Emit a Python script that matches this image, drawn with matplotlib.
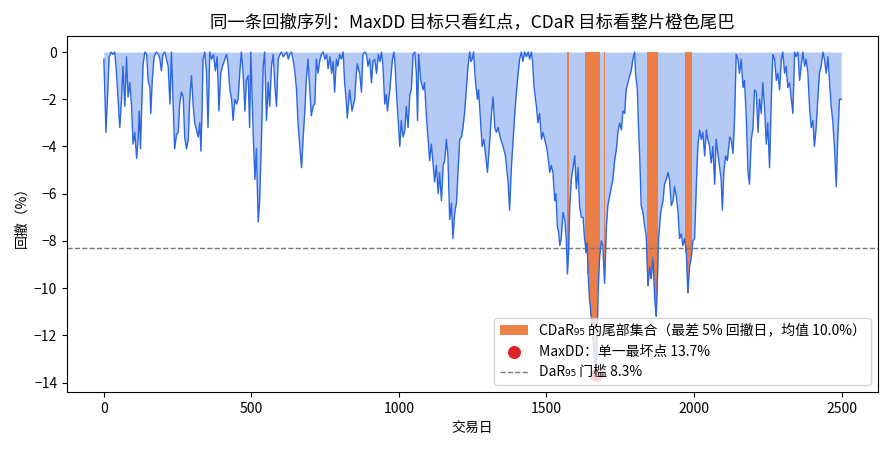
import matplotlib
matplotlib.use("Agg")
import matplotlib.pyplot as plt
import numpy as np

plt.rcParams['font.family'] = ['Noto Sans CJK SC', 'DejaVu Sans']

# 交易日 与 回撤(%)
days = np.array([
    0, 3, 7, 12, 18, 25, 30, 37, 43, 54, 60, 65, 71, 77, 82, 88, 94, 99, 105, 111,
    116, 120, 124, 129, 133, 139, 145, 150, 156, 159, 164, 170, 178, 185, 190, 195, 200, 207, 212, 218,
    224, 229, 235, 240, 246, 252, 257, 263, 269, 274, 280, 286, 291, 297, 303, 308, 314, 320, 325, 329,
    333, 336, 342, 348, 353, 359, 365, 372, 378, 384, 390, 396, 402, 410, 416, 421, 427, 433, 438, 444,
    450, 455, 461, 466, 472, 478, 483, 489, 494, 498, 506, 512, 517, 523, 528, 534, 540, 545, 551, 557,
    562, 568, 574, 579, 585, 591, 597, 602, 608, 614, 620, 625, 630, 636, 641, 647, 653, 658, 664, 670,
    675, 681, 686, 692, 698, 703, 709, 715, 720, 726, 731, 737, 743, 749, 755, 760, 766, 772, 777, 782,
    788, 793, 799, 805, 811, 816, 821, 825, 833, 841, 850, 855, 859, 867, 873, 878, 884, 890, 895, 901,
    907, 912, 918, 924, 930, 936, 941, 946, 952, 957, 961, 969, 974, 978, 983, 987, 991, 997, 1003, 1008,
    1014, 1020, 1025, 1031, 1037, 1042, 1048, 1054, 1059, 1063, 1067, 1074, 1082, 1087, 1093, 1099, 1104, 1110, 1116, 1121,
    1127, 1133, 1138, 1144, 1150, 1155, 1161, 1166, 1172, 1178, 1183, 1189, 1195, 1200, 1206, 1212, 1217, 1223, 1229, 1234,
    1240, 1244, 1248, 1253, 1259, 1266, 1270, 1277, 1282, 1288, 1293, 1300, 1308, 1313, 1319, 1325, 1330, 1336, 1345, 1353,
    1361, 1370, 1375, 1381, 1387, 1392, 1398, 1404, 1409, 1415, 1420, 1426, 1432, 1438, 1443, 1449, 1453, 1458, 1466, 1471,
    1477, 1483, 1488, 1494, 1500, 1505, 1511, 1516, 1522, 1528, 1532, 1537, 1541, 1545, 1550, 1556, 1562, 1567, 1571, 1575,
    1579, 1584, 1590, 1596, 1601, 1607, 1612, 1618, 1624, 1629, 1635, 1638, 1641, 1646, 1652, 1658, 1663, 1669, 1675, 1680,
    1686, 1691, 1697, 1703, 1708, 1714, 1720, 1725, 1731, 1737, 1742, 1748, 1754, 1759, 1765, 1770, 1776, 1782, 1787, 1793,
    1799, 1802, 1808, 1812, 1816, 1821, 1827, 1833, 1838, 1844, 1850, 1855, 1861, 1867, 1872, 1875, 1880, 1887, 1895, 1900,
    1906, 1912, 1917, 1923, 1929, 1934, 1940, 1946, 1951, 1957, 1962, 1968, 1974, 1979, 1985, 1991, 1996, 2002, 2008, 2013,
    2019, 2025, 2030, 2036, 2042, 2047, 2053, 2058, 2064, 2070, 2075, 2081, 2087, 2092, 2096, 2101, 2107, 2113, 2121, 2126,
    2132, 2137, 2143, 2149, 2154, 2160, 2166, 2171, 2177, 2183, 2188, 2194, 2200, 2205, 2211, 2217, 2222, 2228, 2233, 2239,
    2245, 2250, 2256, 2262, 2267, 2273, 2279, 2284, 2290, 2296, 2301, 2307, 2312, 2318, 2324, 2329, 2335, 2341, 2346, 2352,
    2358, 2363, 2369, 2375, 2380, 2386, 2391, 2397, 2403, 2408, 2414, 2420, 2425, 2431, 2437, 2442, 2448, 2454, 2459, 2465,
    2470, 2476, 2482, 2487, 2493, 2499])

drawdown = np.array([
    -0.3, -1.5, -3.4, -2.0, -0.2, 0.0, -0.1, 0.0, -0.9, -3.2, -2.0, -0.6, -2.3, -0.2, -1.9, -1.3, -2.3, -3.9, -3.4, -4.5,
    -3.7, -2.5, -4.1, -2.0, -0.5, 0.0, -0.1, -1.2, -1.5, -2.6, -1.2, -0.2, 0.0, -0.1, -0.3, -0.8, -0.1, 0.0, -0.3, -0.6,
    -2.2, 0.0, -2.3, -4.1, -3.5, -3.4, -2.2, -1.7, -1.9, -3.6, -4.1, -3.7, -2.0, -1.0, -2.3, -3.0, -3.3, -3.6, -3.0, -4.2,
    -2.3, -0.3, 0.0, -0.9, -3.2, 0.0, -0.3, -0.1, -0.8, -0.2, -2.5, -0.9, -0.6, -0.3, -0.1, -0.5, -1.6, -2.0, -2.9, -2.0,
    -2.2, -2.0, -0.8, 0.0, -0.9, -2.5, -1.2, -1.0, -3.2, 0.0, -3.4, -5.4, -4.1, -7.2, -6.3, -3.7, -0.6, 0.0, -2.9, -1.3,
    -2.3, -0.6, -0.1, -1.3, -2.3, -0.3, -0.1, 0.0, -0.2, -0.1, 0.0, -0.3, -0.1, 0.0, -0.3, -0.8, -1.6, -3.0, -4.0, -4.9,
    -3.7, -2.5, -1.2, -0.3, -1.6, -2.7, -2.3, -2.2, -0.3, -0.9, -0.4, -0.1, 0.0, -0.3, -0.1, -0.7, -0.2, -0.9, -0.4, -1.7,
    -0.3, -0.6, -0.1, -0.3, 0.0, -1.3, -2.0, -2.8, -1.6, -2.5, -2.0, -1.0, -0.5, -0.9, -1.7, -0.1, 0.0, -0.1, -0.6, -0.3,
    -1.3, -0.4, -0.3, -0.9, -0.1, -0.4, 0.0, -0.6, -2.2, -1.8, -2.5, -1.6, -0.9, -0.3, 0.0, -0.5, -1.6, -2.8, -4.0, -2.9,
    -3.6, -3.3, -2.3, -3.2, -1.8, -1.6, -0.1, 0.0, -0.9, -2.9, -0.1, -1.2, -1.6, -1.3, -2.7, -3.7, -4.6, -3.9, -4.8, -5.5,
    -4.8, -6.0, -5.1, -6.3, -4.8, -4.6, -3.7, -4.4, -7.1, -6.4, -7.9, -6.8, -6.4, -5.1, -3.7, -3.6, -3.2, -2.5, -1.5, -0.6,
    0.0, -0.4, -0.3, 0.0, -1.2, -2.0, -1.6, -3.0, -4.0, -3.7, -4.3, -5.1, -3.7, -2.7, -1.9, -3.2, -3.4, -3.2, -3.7, -4.0,
    -4.4, -5.5, -6.7, -4.9, -3.7, -2.7, -1.7, -0.9, -0.3, 0.0, -0.4, 0.0, -0.2, 0.0, -0.3, 0.0, -0.4, -1.5, -2.3, -3.0,
    -2.6, -3.7, -3.4, -3.7, -4.0, -4.4, -5.1, -4.8, -5.1, -6.3, -6.0, -7.4, -7.6, -8.2, -7.9, -6.8, -7.1, -7.9, -9.4, -8.5,
    -6.5, -5.4, -4.9, -4.4, -5.8, -4.9, -6.5, -7.0, -7.0, -7.9, -8.5, -8.1, -9.4, -10.5, -11.2, -12.2, -12.9, -13.7, -10.2, -8.7,
    -8.0, -8.2, -9.8, -7.4, -6.5, -6.1, -5.7, -5.4, -4.6, -4.1, -3.4, -3.0, -3.3, -2.5, -2.6, -1.6, -1.3, -1.0, -0.8, -0.3,
    0.0, -0.9, -1.6, -3.2, -4.4, -6.5, -6.8, -7.4, -7.8, -9.9, -9.1, -9.6, -8.7, -10.5, -11.2, -10.1, -7.9, -6.8, -6.3, -5.6,
    -5.4, -5.1, -5.4, -6.5, -6.3, -5.7, -6.1, -6.8, -7.9, -7.7, -8.2, -7.9, -8.5, -10.2, -9.1, -8.7, -8.0, -7.9, -5.6, -4.0,
    -3.3, -3.7, -3.4, -4.4, -3.3, -3.7, -4.0, -4.7, -4.0, -5.6, -3.7, -4.3, -4.9, -5.4, -6.7, -5.1, -4.4, -4.6, -3.6, -3.7,
    -4.3, -3.0, -0.1, -0.3, -0.9, -0.3, -1.5, -1.2, -2.7, -5.1, -5.6, -3.7, -3.2, -1.6, -1.7, -3.4, -2.0, -2.6, -1.3, -2.3,
    -3.9, -3.0, -4.9, -2.0, -0.1, -0.3, -1.2, -0.9, -1.6, -0.3, 0.0, -0.9, -0.6, -1.5, -1.3, -1.9, -2.6, 0.0, -0.2, 0.0,
    -1.2, -0.6, 0.0, -0.6, -0.3, -0.9, -2.2, -3.2, -2.9, -4.0, -3.2, -1.9, -0.9, -0.6, 0.0, -0.3, -0.9, -0.2, -1.2, -2.3,
    -2.9, -4.0, -5.7, -3.7, -2.0, -2.0])

dar_threshold = -8.3
maxdd_day = 1669
maxdd_value = -13.7

fig, ax = plt.subplots(figsize=(8.87, 4.5), dpi=100)
fig.subplots_adjust(left=0.0755, right=0.99, top=0.92, bottom=0.129)

blue = '#2b66e3'
ax.fill_between(days, drawdown, 0, color=blue, alpha=0.35, linewidth=0, zorder=1)

tail = drawdown <= dar_threshold
h_tail = ax.bar(days[tail], drawdown[tail], width=6, color='#ec7a3f', alpha=0.95, linewidth=0, zorder=2,
                label='CDaR₉₅ 的尾部集合（最差 5% 回撤日，均值 10.0%）')

ax.plot(days, drawdown, color=blue, linewidth=1.0, zorder=3)
h_max = ax.scatter([maxdd_day], [maxdd_value], s=70, color='#dc2626', zorder=4,
                   label='MaxDD：单一最坏点 13.7%')
h_dar = ax.axhline(dar_threshold, color='#777777', linestyle='--', linewidth=1.0,
                   label='DaR₉₅ 门槛 8.3%')

ax.set_title('同一条回撤序列：MaxDD 目标只看红点，CDaR 目标看整片橙色尾巴', fontsize=12.5)
ax.set_xlabel('交易日', fontsize=10)
ax.set_ylabel('回撤（%）', fontsize=10)
ax.set_xlim(-125, 2624)
ax.set_ylim(-14.4, 0.68)
ax.legend(handles=[h_tail, h_max, h_dar], loc='lower right', fontsize=10)

fig.savefig('out.png', dpi=100)
